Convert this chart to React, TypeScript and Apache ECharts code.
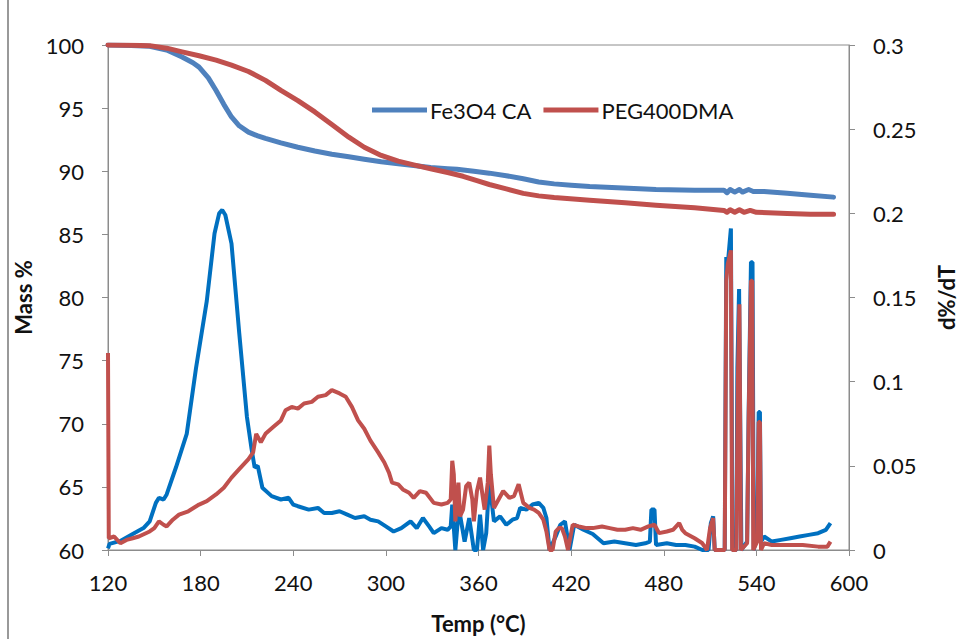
import React, { useEffect, useRef } from "react";
import * as echarts from "echarts";

const xTicks = [120, 180, 240, 300, 360, 420, 480, 540, 600];

const fe3o4Mass: [number, number][] = [
  [120, 100], [135, 99.97], [147, 99.9], [158, 99.6], [168, 99.05], [175, 98.6], [179, 98.25],
  [185, 97.4], [190, 96.4], [195, 95.3], [200, 94.3], [205, 93.6], [211, 93.1], [217, 92.8],
  [222, 92.6], [232, 92.25], [243, 91.9], [254, 91.6], [265, 91.35], [276, 91.15], [286, 90.95],
  [297, 90.75], [308, 90.6], [318, 90.45], [329, 90.3], [340, 90.2], [346, 90.15], [357, 90.0],
  [367, 89.85], [378, 89.65], [389, 89.4], [399, 89.15], [409, 89.0], [420, 88.9], [432, 88.8],
  [450, 88.7], [475, 88.55], [500, 88.5], [519, 88.5], [521, 88.3], [523, 88.55], [526, 88.35],
  [529, 88.55], [531, 88.35], [535, 88.55], [538, 88.4], [545, 88.4], [560, 88.25], [575, 88.1],
  [590, 87.95],
];

const pegMass: [number, number][] = [
  [120, 100], [135, 99.99], [147, 99.95], [158, 99.75], [168, 99.45], [179, 99.15], [190, 98.8],
  [200, 98.4], [211, 97.9], [222, 97.2], [232, 96.4], [243, 95.6], [254, 94.7], [265, 93.7],
  [276, 92.7], [286, 91.9], [297, 91.25], [308, 90.8], [318, 90.5], [329, 90.2], [340, 89.9],
  [350, 89.6], [359, 89.25], [367, 88.95], [378, 88.6], [389, 88.25], [399, 88.05], [409, 87.92],
  [432, 87.7], [455, 87.5], [475, 87.3], [500, 87.1], [519, 86.9], [521, 86.75], [523, 86.95],
  [526, 86.75], [529, 86.95], [532, 86.75], [536, 86.9], [540, 86.75], [560, 86.65], [575, 86.6],
  [590, 86.6],
];

const fe3o4Deriv: [number, number][] = [
  [120, 0.001], [121, 0.0036], [128, 0.0054], [136, 0.0095], [143, 0.013], [147, 0.017], [151, 0.028],
  [153, 0.031], [156, 0.03], [158, 0.033], [164, 0.049], [171, 0.069], [177, 0.108], [184, 0.148],
  [189, 0.188], [192, 0.2], [194, 0.202], [196, 0.199], [200, 0.182], [205, 0.129], [210, 0.079],
  [213, 0.06], [215, 0.049], [217, 0.05], [220, 0.037], [226, 0.032], [232, 0.03], [237, 0.031],
  [240, 0.027], [243, 0.026], [250, 0.024], [256, 0.025], [260, 0.022], [265, 0.022], [270, 0.023],
  [275, 0.021], [280, 0.019], [286, 0.02], [290, 0.018], [295, 0.017], [300, 0.014], [305, 0.011],
  [310, 0.013], [316, 0.017], [320, 0.013], [324, 0.019], [328, 0.014], [331, 0.01], [336, 0.013],
  [340, 0.012], [342, 0.014], [343, 0.027], [345, 0], [347, 0.022], [348, 0.021], [351, 0.005],
  [354, 0.019], [357, 0], [359, 0], [361, 0.021], [363, 0], [365, 0.01], [367, 0.041], [370, 0.017],
  [374, 0.02], [378, 0.015], [382, 0.018], [385, 0.019], [387, 0.025], [391, 0.024], [395, 0.027],
  [399, 0.028], [402, 0.025], [404, 0.019], [406, 0], [410, 0.008], [413, 0.015], [416, 0.017],
  [419, 0], [422, 0.015], [428, 0.012], [434, 0.0095], [441, 0.004], [448, 0.005], [455, 0.004],
  [462, 0.003], [468, 0.004], [471, 0.005], [472, 0.024], [474, 0.024], [475, 0.003], [482, 0.004],
  [488, 0.003], [494, 0.003], [500, 0.002], [505, 0], [509, 0], [510.5, 0.016], [512, 0.02],
  [513, 0], [519.5, 0], [520.5, 0.174], [521.5, 0.17], [523.5, 0.191], [524.5, 0], [527, 0],
  [527.7, 0.108], [528.8, 0.155], [530.3, 0], [534, 0.005], [535, 0.082], [536.5, 0.171],
  [537.5, 0.171], [538.3, 0], [540.5, 0.01], [541.5, 0.082], [542.3, 0.082], [543, 0.005],
  [545, 0.008], [550, 0.005], [556, 0.006], [562, 0.007], [568, 0.008], [574, 0.009], [580, 0.01],
  [585, 0.012], [588, 0.016],
];

const pegDeriv: [number, number][] = [
  [120, 0.117], [120.5, 0.007], [124, 0.008], [128, 0.004], [132, 0.006], [136, 0.007], [140, 0.008],
  [147, 0.011], [150, 0.013], [153, 0.017], [156, 0.015], [158, 0.014], [162, 0.018], [166, 0.021],
  [172, 0.023], [179, 0.027], [184, 0.029], [190, 0.033], [195, 0.037], [200, 0.043], [205, 0.048],
  [211, 0.054], [214, 0.058], [216, 0.069], [219, 0.064], [222, 0.069], [227, 0.073], [232, 0.077],
  [235, 0.083], [239, 0.085], [243, 0.084], [247, 0.087], [252, 0.088], [256, 0.091], [261, 0.092],
  [265, 0.095], [270, 0.093], [274, 0.091], [278, 0.085], [282, 0.077], [286, 0.072], [290, 0.065],
  [295, 0.058], [299, 0.052], [302, 0.046], [304, 0.04], [308, 0.039], [311, 0.036], [315, 0.034],
  [318, 0.031], [322, 0.035], [326, 0.034], [331, 0.028], [336, 0.027], [340, 0.028], [342, 0.03],
  [343, 0.053], [344, 0.045], [345, 0.017], [347, 0.04], [348, 0.02], [350, 0.024], [352, 0.038],
  [354, 0.04], [356, 0.03], [357, 0.017], [359, 0.035], [361, 0.043], [363, 0.03], [364, 0.024],
  [366, 0.04], [367, 0.062], [368, 0.045], [370, 0.025], [373, 0.03], [376, 0.035], [380, 0.031],
  [383, 0.032], [386, 0.039], [389, 0.028], [393, 0.025], [396, 0.024], [399, 0.022], [402, 0.018],
  [404, 0.011], [406, 0], [408, 0], [410, 0.011], [412, 0.013], [414, 0.013], [416, 0.008], [418, 0],
  [420, 0.01], [421, 0.015], [425, 0.014], [430, 0.013], [434, 0.013], [440, 0.014], [445, 0.013],
  [450, 0.012], [455, 0.012], [460, 0.013], [465, 0.012], [470, 0.014], [474, 0.015], [477, 0.01],
  [482, 0.011], [486, 0.012], [490, 0.016], [492, 0.012], [494, 0.01], [500, 0.007], [505, 0.004],
  [508, 0], [510, 0.013], [512, 0.019], [513, 0], [519.5, 0], [520.5, 0.16], [521.5, 0.17],
  [523.5, 0.178], [524.3, 0], [527, 0], [528, 0.1], [529, 0.146], [530, 0], [534, 0.004],
  [535, 0.078], [536.5, 0.16], [537.3, 0.16], [538, 0], [540.5, 0.005], [541.5, 0.076],
  [542.3, 0.076], [543, 0], [545, 0.004], [550, 0.003], [560, 0.003], [570, 0.003], [580, 0.002],
  [586, 0.002], [588, 0.005],
];

const FONT = "Lato, 'Open Sans', sans-serif";
const TXT = "#111";
const AX = "#8c8c8c";

export default function App() {
  const ref = useRef<HTMLDivElement>(null);
  useEffect(() => {
    if (!ref.current) return;
    const chart = echarts.init(ref.current, undefined, { renderer: "svg" });
    chart.setOption({
      animation: false,
      backgroundColor: "#fff",
      textStyle: { fontFamily: FONT, color: TXT },
      grid: {
        left: 108, right: 108, top: 45, bottom: 89,
        show: true, borderColor: AX, borderWidth: 1,
      },
      legend: {
        data: ["Fe3O4 CA", "PEG400DMA"],
        left: 367, top: 94, icon: "rect", itemWidth: 55, itemHeight: 5, itemGap: 12,
        textStyle: { fontFamily: FONT, fontSize: 22, color: TXT, padding: [0, 0, 0, -2] },
      },
      graphic: [
        { type: "line", shape: { x1: 8, y1: 0, x2: 8, y2: 639 }, style: { stroke: "#999", lineWidth: 2 } },
      ],
      xAxis: {
        type: "value", min: xTicks[0], max: xTicks[xTicks.length - 1], interval: 60,
        name: "Temp (°C)", nameLocation: "middle", nameGap: 62,
        nameTextStyle: { fontFamily: FONT, fontSize: 22, fontWeight: "bold", color: TXT },
        axisLine: { lineStyle: { color: AX } },
        axisTick: { show: true, length: 6, lineStyle: { color: AX } },
        axisLabel: { fontFamily: FONT, fontSize: 22, color: TXT, margin: 21 },
        splitLine: { show: false },
      },
      yAxis: [
        {
          type: "value", min: 60, max: 100, interval: 5, position: "left",
          name: "Mass %", nameLocation: "middle", nameGap: 66, nameRotate: 90,
          nameTextStyle: { fontFamily: FONT, fontSize: 22, fontWeight: "bold", color: TXT },
          axisLine: { show: true, lineStyle: { color: AX } },
          axisTick: { show: true, length: 6, lineStyle: { color: AX } },
          axisLabel: { fontFamily: FONT, fontSize: 22, color: TXT, margin: 24 },
          splitLine: { show: false },
        },
        {
          type: "value", min: 0, max: 0.3, interval: 0.05, position: "right",
          name: "d%/dT", nameLocation: "middle", nameGap: 86, nameRotate: 90,
          nameTextStyle: { fontFamily: FONT, fontSize: 22, fontWeight: "bold", color: TXT },
          axisLine: { show: true, lineStyle: { color: AX } },
          axisTick: { show: true, length: 6, lineStyle: { color: AX } },
          axisLabel: { fontFamily: FONT, fontSize: 22, color: TXT, margin: 24 },
          splitLine: { show: false },
        },
      ],
      series: [
        {
          name: "Fe3O4 CA d%/dT", type: "line", yAxisIndex: 1, data: fe3o4Deriv, showSymbol: false,
          lineStyle: { color: "#0070C0", width: 4 }, itemStyle: { color: "#0070C0" },
        },
        {
          name: "PEG400DMA d%/dT", type: "line", yAxisIndex: 1, data: pegDeriv, showSymbol: false,
          lineStyle: { color: "#C0504D", width: 4 }, itemStyle: { color: "#C0504D" },
        },
        {
          name: "Fe3O4 CA", type: "line", yAxisIndex: 0, data: fe3o4Mass, showSymbol: false,
          lineStyle: { color: "#4F81BD", width: 5, join: "round", cap: "round" }, itemStyle: { color: "#4F81BD" },
        },
        {
          name: "PEG400DMA", type: "line", yAxisIndex: 0, data: pegMass, showSymbol: false,
          lineStyle: { color: "#C0504D", width: 5, join: "round", cap: "round" }, itemStyle: { color: "#C0504D" },
        },
      ],
    });
    return () => chart.dispose();
  }, []);
  return (
    <div
      ref={ref}
      style={{ position: "fixed", left: 0, top: 0, width: 965, height: 639, background: "#fff" }}
    />
  );
}
